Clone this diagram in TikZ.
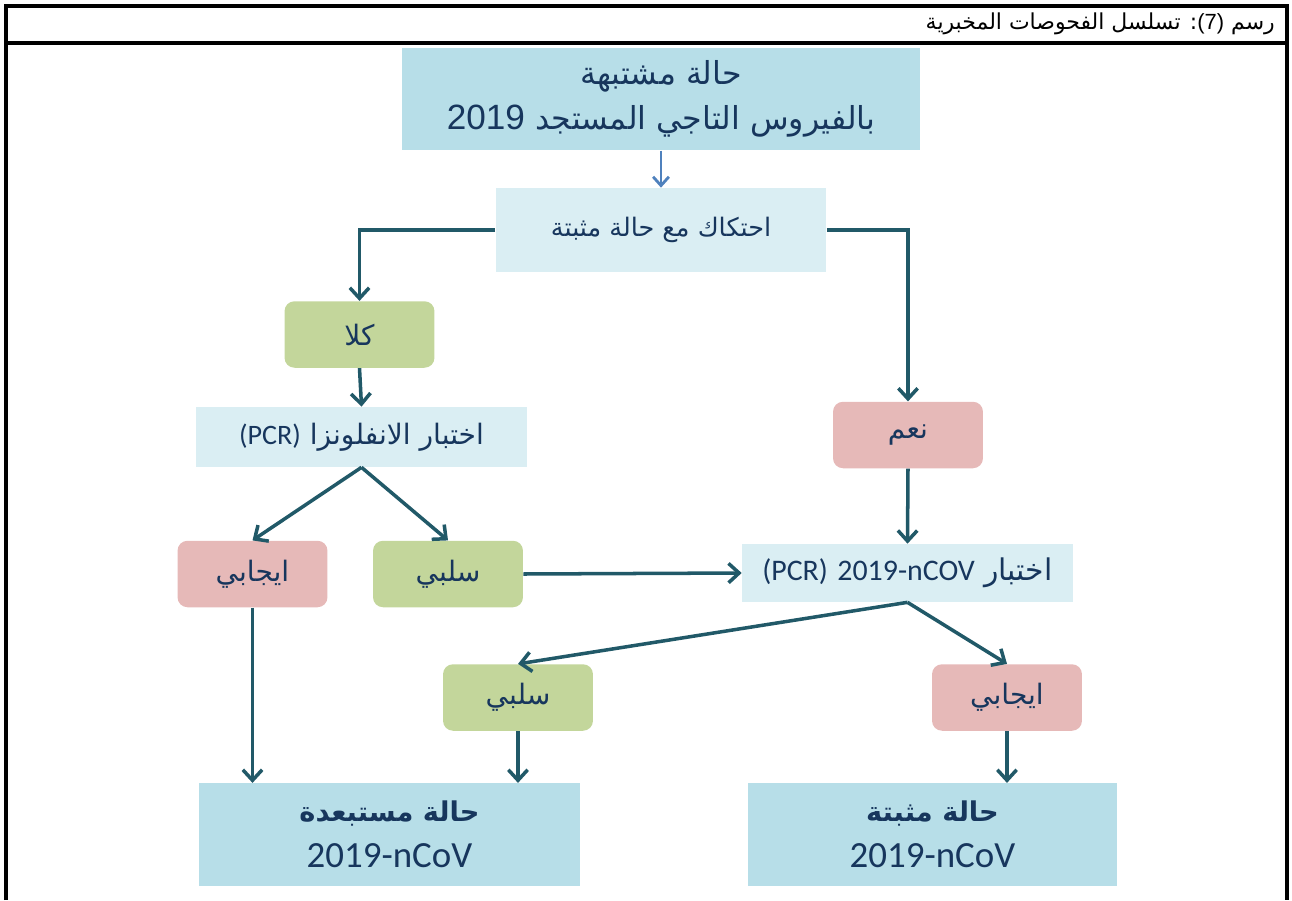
\documentclass[tikz,border=0pt]{standalone}
\usepackage{fontspec}
\usepackage{tikz}
\usetikzlibrary{positioning,
				arrows.meta}
\TeXXeTstate=1
\newfontfamily\arabicfont[Script=Arabic]{DejaVu Sans}
\newfontfamily\calfont{Carlito}
\newfontfamily\arialfont{Liberation Sans}
\newcommand{\artext}[1]{{\arabicfont\beginR #1\endR}}
\newcommand{\lattext}[1]{\beginL{\calfont #1}\endL}

\definecolor{boxblue}{RGB}{183,222,232}
\definecolor{testblue}{RGB}{218,238,243}
\definecolor{nogreen}{RGB}{195,214,155}
\definecolor{yespink}{RGB}{230,185,184}
\definecolor{linkteal}{RGB}{33,89,104}
\definecolor{linkblue}{RGB}{79,129,189}
\definecolor{navytext}{RGB}{23,54,93}

\tikzset{
  mainbox/.style={fill=boxblue, text=navytext, align=center, inner sep=0pt,
    minimum height=2.05cm, font=\fontsize{18}{26}\selectfont},
  testbox/.style={fill=testblue, text=navytext, align=center, inner sep=0pt,
    minimum width=6.62cm, font=\fontsize{16}{19}\selectfont},
  nobox/.style={fill=nogreen, rounded corners=0.2cm, text=navytext, inner sep=0pt,
    minimum width=3cm, minimum height=1.33cm, font=\fontsize{16}{19}\selectfont},
  yesbox/.style={nobox, fill=yespink},
  flow/.style={draw=linkteal, line width=2pt, -{Straight Barb[length=6pt,width=11pt]}},
  firstflow/.style={draw=linkblue, line width=1.6pt, -{Straight Barb[length=5pt,width=9pt]}}
}

\begin{document}
\begin{tikzpicture}[x=0.02cm,y=-0.02cm]
  \useasboundingbox (0,0) rectangle (1292,900);
  % frame
  \draw[line width=2pt](6,900)--(6,6)--(1287,6)--(1287,900);
  \draw[line width=2pt](6,43)--(1287,43);
  \node[anchor=east, font=\fontsize{12.5}{15}\selectfont] (title) at (1281,24)
    {\artext{رسم \beginL{\arialfont (7)}\endL: تسلسل الفحوصات المخبرية}};
  % boxes
  \node[mainbox, minimum width=10.36cm] (suspect) at (661,99)
    {\artext{حالة مشتبهة}\\
     \artext{بالفيروس التاجي المستجد \beginL{\arialfont\fontsize{20}{26}\selectfont 2019}\endL}};
  \node[testbox, minimum height=1.68cm, font=\fontsize{14.5}{18}\selectfont] (contact) at (661,230)
    {\artext{احتكاك مع حالة مثبتة}};
  \node[nobox] (no) at (359.5,334.5) {\artext{كلا}};
  \node[testbox, minimum height=1.2cm] (flutest) at (361.5,437)
    {\artext{اختبار الانفلونزا \lattext{(PCR)}}};
  \node[yesbox] (yes) at (908,435) {\artext{نعم}};
  \node[yesbox] (flupos) at (252.5,574) {\artext{ايجابي}};
  \node[nobox] (fluneg) at (448,574) {\artext{سلبي}};
  \node[testbox, minimum height=1.16cm, font=\fontsize{17}{19}\selectfont] (covtest) at (907.5,573)
    {\artext{اختبار \lattext{2019-nCOV} \lattext{(PCR)}}};
  \node[nobox] (covneg) at (518,697.5) {\artext{سلبي}};
  \node[yesbox] (covpos) at (1007,697.5) {\artext{ايجابي}};
  \node[mainbox, minimum width=7.62cm, font=\fontsize{15.5}{26}\selectfont] (excluded) at (389.5,834.5)
    {\artext{\bfseries حالة مستبعدة}\\ \lattext{\fontsize{21}{26}\selectfont 2019-nCoV}};
  \node[mainbox, minimum width=7.38cm, font=\fontsize{15.5}{26}\selectfont] (confirmed) at (932.5,834.5)
    {\artext{\bfseries حالة مثبتة}\\ \lattext{\fontsize{21}{26}\selectfont 2019-nCoV}};
  % links
  \draw[firstflow](suspect.south)--(contact.north);
  \draw[flow](contact.west)-|(no.north);
  \draw[flow](contact.east)-|(yes.north);
  \draw[flow](no.south)--(flutest.north);
  \draw[flow](flutest.south)--(flupos.north);
  \draw[flow](flutest.south)--(fluneg.north);
  \draw[flow](yes.south)--(covtest.north);
  \draw[flow](fluneg.east)--(covtest.west);
  \draw[flow](covtest.south)--(covneg.north);
  \draw[flow](covtest.south)--(covpos.north);
  \draw[flow](flupos.south)--(flupos.south |- excluded.north);
  \draw[flow](covneg.south)--(covneg.south |- excluded.north);
  \draw[flow](covpos.south)--(covpos.south |- confirmed.north);
\end{tikzpicture}
\end{document}
